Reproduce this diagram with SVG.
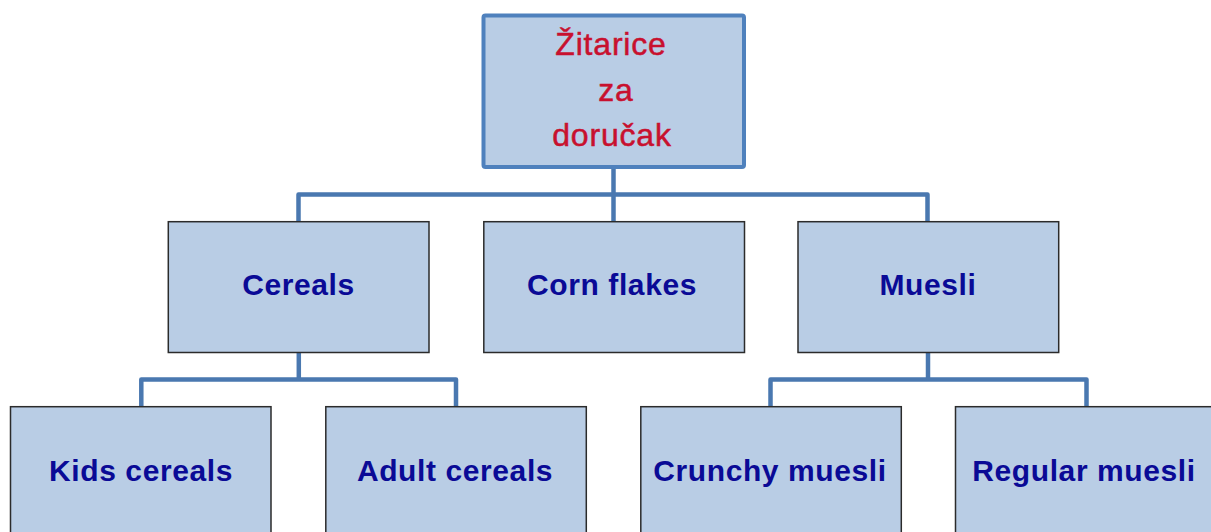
<svg xmlns="http://www.w3.org/2000/svg" width="1211" height="532" viewBox="0 0 1211 532">
<style>
.box{fill:#B9CDE5;stroke:#2b2b2b;stroke-width:1.5}
.root{fill:#B9CDE5;stroke:#4F81BD;stroke-width:4}
.lbl{font-family:"Liberation Sans",Arial,sans-serif;font-weight:bold;font-size:30px;fill:#0A0A96;text-anchor:middle;letter-spacing:0.6px}
.rlbl{font-family:"Liberation Sans",Arial,sans-serif;font-size:32px;fill:#C8102E;stroke:#C8102E;stroke-width:0.5;text-anchor:middle;letter-spacing:0.8px}
.con{fill:none;stroke:#4A78B0;stroke-width:4.5;stroke-linejoin:round}
</style>
<rect width="1211" height="532" fill="#ffffff"/>
<g id="connectors">
<path class="con" d="M613.5,167 V222"/>
<path class="con" d="M298.5,222 V194.5 H927.5 V222"/>
<path class="con" d="M298.8,352.5 V379.5"/>
<path class="con" d="M141.3,407 V379.5 H456 V407"/>
<path class="con" d="M928,352.5 V379.5"/>
<path class="con" d="M770.5,407 V379.5 H1086.5 V407"/>
</g>
<g id="root">
<rect class="root" x="483.5" y="15.5" width="260.5" height="151.5" rx="2"/>
<text class="rlbl" x="611" y="55">Žitarice</text>
<text class="rlbl" x="616" y="101">za</text>
<text class="rlbl" x="612" y="146">doručak</text>
</g>
<g id="cereals">
<rect class="box" x="168.3" y="221.7" width="260.7" height="130.8"/>
<text class="lbl" x="298.5" y="295">Cereals</text>
</g>
<g id="cornflakes">
<rect class="box" x="483.8" y="221.7" width="260.7" height="130.8"/>
<text class="lbl" x="612" y="295">Corn flakes</text>
</g>
<g id="muesli">
<rect class="box" x="798" y="221.7" width="260.7" height="130.8"/>
<text class="lbl" x="928" y="295">Muesli</text>
</g>
<g id="kids">
<rect class="box" x="10.5" y="406.7" width="260.5" height="140"/>
<text class="lbl" x="141" y="481">Kids cereals</text>
</g>
<g id="adult">
<rect class="box" x="325.8" y="406.7" width="260.5" height="140"/>
<text class="lbl" x="455" y="481">Adult cereals</text>
</g>
<g id="crunchy">
<rect class="box" x="640.8" y="406.7" width="260.5" height="140"/>
<text class="lbl" x="770" y="481">Crunchy muesli</text>
</g>
<g id="regular">
<rect class="box" x="955.5" y="406.7" width="260.5" height="140"/>
<text class="lbl" x="1084" y="481">Regular muesli</text>
</g>
</svg>
